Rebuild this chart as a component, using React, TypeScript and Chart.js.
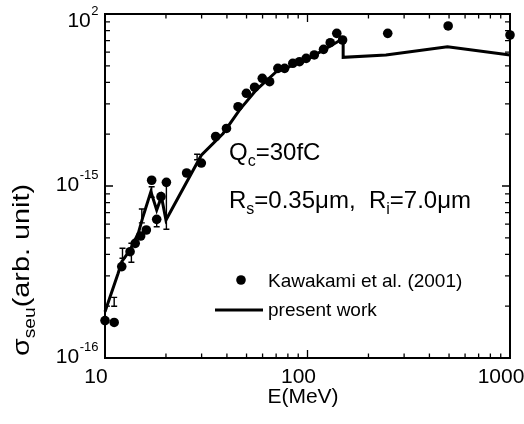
import React, { useEffect, useRef } from "react";
import { Chart, registerables } from "chart.js";

Chart.register(...registerables);

const FONT = '"Liberation Sans", Arial, Helvetica, sans-serif';

// Kawakami et al. (2001) measured points
const kawakamiEnergy = [10, 11.1, 12.1, 13.3, 14.1, 15.0, 16.0, 17.0, 18.0, 18.9, 20.1, 25.3, 29.9, 35.2, 39.8, 45.4, 49.9, 54.8, 59.8, 65.0, 71.4, 77.1, 84.6, 91.3, 98.5, 108, 120, 129.5, 139.5, 149, 249, 495, 1000];
const kawakamiSigma = [1.65e-16, 1.61e-16, 3.4e-16, 4.15e-16, 4.64e-16, 5.12e-16, 5.55e-16, 1.08e-15, 6.4e-16, 8.67e-16, 1.05e-15, 1.19e-15, 1.36e-15, 1.94e-15, 2.16e-15, 2.89e-15, 3.46e-15, 3.75e-15, 4.23e-15, 4.04e-15, 4.83e-15, 4.83e-15, 5.17e-15, 5.28e-15, 5.52e-15, 5.78e-15, 6.23e-15, 6.81e-15, 7.72e-15, 7.06e-15, 7.72e-15, 8.52e-15, 7.55e-15];

// error bars (energy, low, high)
const errEnergy = [11.1, 12.2, 13.5, 15.2, 17.0, 18.0, 20.1, 28.5];
const errLow = [2.0e-16, 3.8e-16, 3.6e-16, 6.1e-16, 8.6e-16, 5.8e-16, 5.6e-16, 1.42e-15];
const errHigh = [2.25e-16, 4.35e-16, 4.65e-16, 7.35e-16, 9.9e-16, 6.6e-16, 1.01e-15, 1.53e-15];

// present work (calculation)
const modelEnergy = [10, 11.6, 12.1, 13.3, 14.6, 15.4, 16.85, 18.0, 19.0, 20.0, 29.9, 38.3, 46.2, 55.9, 70.1, 98.5, 150, 150, 244, 491, 1000];
const modelSigma = [1.86e-16, 3.1e-16, 3.63e-16, 4.25e-16, 5.31e-16, 6.63e-16, 9.27e-16, 7.25e-16, 8.67e-16, 6.34e-16, 1.51e-15, 2.02e-15, 2.77e-15, 3.62e-15, 4.62e-15, 5.4e-15, 7.2e-15, 5.6e-15, 5.78e-15, 6.45e-15, 5.78e-15];

const xMin = 10;
const xMax = 1000;
const yMin = 1e-16;
const yMax = 1e-14;
const xTickValues = [10, 100, 1000];
const xTickLabels = ["10", "100", "1000"];
const yTickValues = [1e-16, 1e-15, 1e-14];
const yTickBase = ["10", "10", "10"];
const yTickExp = ["-16", "-15", "2"];

type Run = { t: string; s: number; dy?: number };

function drawRuns(ctx: CanvasRenderingContext2D, x: number, y: number, runs: Run[]) {
  let cx = x;
  ctx.textAlign = "left";
  ctx.textBaseline = "alphabetic";
  for (const r of runs) {
    ctx.font = `${r.s}px ${FONT}`;
    ctx.fillText(r.t, cx, y + (r.dy || 0));
    cx += ctx.measureText(r.t).width;
  }
}

function minorValues(min: number, max: number): number[] {
  const out: number[] = [];
  for (let e = Math.floor(Math.log10(min)); e <= Math.ceil(Math.log10(max)); e++) {
    for (let m = 1; m <= 9; m++) {
      const v = m * Math.pow(10, e);
      if (v >= min * 0.999 && v <= max * 1.001) out.push(v);
    }
  }
  return out;
}

const framePlugin = {
  id: "framePlugin",
  beforeDatasetsDraw(chart: any) {
    const ctx: CanvasRenderingContext2D = chart.ctx;
    const { left, right, top, bottom } = chart.chartArea;
    const xs = chart.scales.x;
    const ys = chart.scales.y;
    ctx.save();
    ctx.strokeStyle = "#000";
    ctx.lineWidth = 2;
    ctx.strokeRect(left, top, right - left, bottom - top);
    ctx.lineWidth = 1.3;
    ctx.beginPath();
    for (const v of minorValues(xMin, xMax)) {
      const px = xs.getPixelForValue(v);
      const isMajor = Math.abs(Math.log10(v) - Math.round(Math.log10(v))) < 1e-6;
      const len = isMajor ? 8 : 4.5;
      ctx.moveTo(px, bottom);
      ctx.lineTo(px, bottom - len);
      ctx.moveTo(px, top);
      ctx.lineTo(px, top + len);
    }
    for (const v of minorValues(yMin, yMax)) {
      const py = ys.getPixelForValue(v);
      const lv = Math.log10(v);
      const isMajor = Math.abs(lv - Math.round(lv)) < 1e-6;
      const len = isMajor ? 8 : 5;
      ctx.moveTo(left, py);
      ctx.lineTo(left + len, py);
      ctx.moveTo(right, py);
      ctx.lineTo(right - len, py);
    }
    ctx.stroke();
    ctx.restore();
  },
  afterDatasetsDraw(chart: any) {
    const ctx: CanvasRenderingContext2D = chart.ctx;
    const xs = chart.scales.x;
    const ys = chart.scales.y;
    ctx.save();
    ctx.strokeStyle = "#000";
    ctx.lineWidth = 1.4;
    ctx.beginPath();
    for (let i = 0; i < errEnergy.length; i++) {
      const px = xs.getPixelForValue(errEnergy[i]);
      const p1 = ys.getPixelForValue(errLow[i]);
      const p2 = ys.getPixelForValue(errHigh[i]);
      ctx.moveTo(px, p1);
      ctx.lineTo(px, p2);
      ctx.moveTo(px - 3, p1);
      ctx.lineTo(px + 3, p1);
      ctx.moveTo(px - 3, p2);
      ctx.lineTo(px + 3, p2);
    }
    ctx.stroke();
    ctx.restore();
  },
  afterDraw(chart: any) {
    const ctx: CanvasRenderingContext2D = chart.ctx;
    const { bottom } = chart.chartArea;
    const xs = chart.scales.x;
    const ys = chart.scales.y;
    ctx.save();
    ctx.fillStyle = "#000";
    // x tick labels
    ctx.font = `21px ${FONT}`;
    ctx.textAlign = "center";
    ctx.textBaseline = "alphabetic";
    xTickValues.forEach((v, i) => {
      ctx.fillText(xTickLabels[i], xs.getPixelForValue(v) - 9, bottom + 25);
    });
    // y tick labels with superscripts
    yTickValues.forEach((v, i) => {
      const py = Math.max(ys.getPixelForValue(v) - 2.5, 19.5);
      ctx.font = `21px ${FONT}`;
      const bw = ctx.measureText(yTickBase[i]).width;
      ctx.font = `13px ${FONT}`;
      const sw = ctx.measureText(yTickExp[i]).width;
      const x0 = 98 - sw - bw;
      ctx.textAlign = "left";
      ctx.font = `21px ${FONT}`;
      ctx.fillText(yTickBase[i], x0, py + 7.5);
      ctx.font = `13px ${FONT}`;
      ctx.fillText(yTickExp[i], x0 + bw + 0.5, py - 4.5);
    });
    // x title
    ctx.font = `21px ${FONT}`;
    ctx.textAlign = "center";
    ctx.fillText("E(MeV)", 303, 403);
    // y title (rotated)
    ctx.save();
    ctx.translate(29, 356);
    ctx.rotate(-Math.PI / 2);
    ctx.scale(1.2, 1);
    drawRuns(ctx, 0, 0, [
      { t: "σ", s: 24 },
      { t: "seu", s: 16, dy: 6 },
      { t: "(arb. unit)", s: 24 },
    ]);
    ctx.restore();
    // annotations
    drawRuns(ctx, 229, 160, [
      { t: "Q", s: 24 },
      { t: "c", s: 16, dy: 6 },
      { t: "=30fC", s: 24 },
    ]);
    drawRuns(ctx, 229, 208, [
      { t: "R", s: 24 },
      { t: "s", s: 16, dy: 6 },
      { t: "=0.35μm,  ", s: 24 },
      { t: "R", s: 24 },
      { t: "i", s: 16, dy: 6 },
      { t: "=7.0μm", s: 24 },
    ]);
    // legend
    ctx.beginPath();
    ctx.arc(241, 280, 4.8, 0, Math.PI * 2);
    ctx.fill();
    ctx.font = `19px ${FONT}`;
    ctx.textAlign = "left";
    ctx.fillText("Kawakami et al. (2001)", 268, 287);
    ctx.lineWidth = 3;
    ctx.strokeStyle = "#000";
    ctx.beginPath();
    ctx.moveTo(215, 310);
    ctx.lineTo(263, 310);
    ctx.stroke();
    ctx.fillText("present work", 268, 316);
    ctx.restore();
  },
};

export default function App() {
  const ref = useRef<HTMLCanvasElement | null>(null);
  useEffect(() => {
    if (!ref.current) return;
    const chart = new Chart(ref.current, {
      type: "scatter",
      data: {
        datasets: [
          {
            label: "Kawakami et al. (2001)",
            data: kawakamiEnergy.map((x, i) => ({ x, y: kawakamiSigma[i] })),
            pointRadius: 4.8,
            pointBackgroundColor: "#000",
            pointBorderWidth: 0,
            showLine: false,
            clip: false,
            order: 0,
          } as any,
          {
            label: "present work",
            data: modelEnergy.map((x, i) => ({ x, y: modelSigma[i] })),
            showLine: true,
            borderColor: "#000",
            borderWidth: 3,
            pointRadius: 0,
            tension: 0,
            clip: false,
            order: 1,
          } as any,
        ],
      },
      options: {
        animation: false,
        responsive: false,
        maintainAspectRatio: false,
        layout: { padding: { left: 105, right: 14, top: 14, bottom: 66 } },
        plugins: { legend: { display: false }, tooltip: { enabled: false } },
        scales: {
          x: { type: "logarithmic", min: xMin, max: xMax, display: false },
          y: { type: "logarithmic", min: yMin, max: yMax, display: false },
        },
      },
      plugins: [framePlugin],
    });
    return () => chart.destroy();
  }, []);
  return (
    <div style={{ position: "fixed", left: 0, top: 0, width: 524, height: 424, background: "#fff" }}>
      <canvas ref={ref} width={524} height={424} style={{ display: "block", width: 524, height: 424 }} />
    </div>
  );
}
